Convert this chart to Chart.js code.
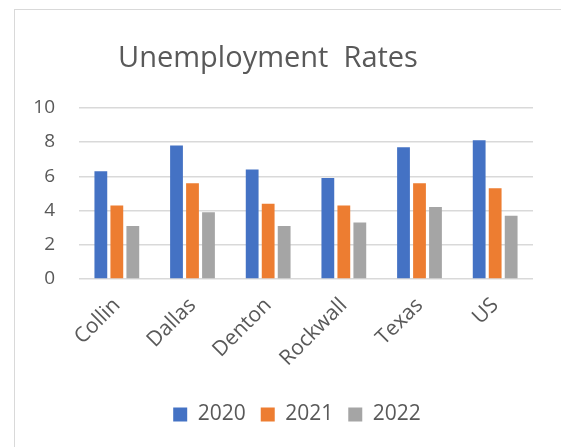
<!DOCTYPE html>
<html>
<head>
<meta charset="utf-8">
<script src="https://cdn.jsdelivr.net/npm/chart.js@4"></script>
<style>
    html, body { margin: 0; padding: 0; background: #fff; overflow: hidden; }
    #frame {
        position: absolute; left: 14px; top: 9px;
        width: 556px; height: 438px;
        border-left: 1px solid #d9d9d9; border-top: 1px solid #d9d9d9;
    }
    #frame canvas { display: block; }
</style>
</head>
<body>
<div id="frame"><canvas id="chart" width="555" height="437"></canvas></div>
<script>
const regions = ['Collin', 'Dallas', 'Denton', 'Rockwall', 'Texas', 'US'];
const rates2020 = [6.3, 7.8, 6.4, 5.9, 7.7, 8.1];
const rates2021 = [4.3, 5.6, 4.4, 4.3, 5.6, 5.3];
const rates2022 = [3.1, 3.9, 3.1, 3.3, 4.2, 3.7];
const yTicks = [0, 2, 4, 6, 8, 10];

const FONT = "'Open Sans', 'Noto Sans', sans-serif";
const TEXT = '#595959';

// title sits a bit left, legend is centred on the full frame
const nudgeBlocks = {
    id: 'nudgeBlocks',
    afterLayout(chart) {
        const t = chart.titleBlock;
        if (t) { t.left -= 6; t.right -= 6; }
        const l = chart.legend;
        if (l) { l.left += 23; l.right += 23; }
    }
};

new Chart(document.getElementById('chart'), {
    type: 'bar',
    data: {
        labels: regions,
        datasets: [
            { label: '2020', data: rates2020, backgroundColor: '#4472C4' },
            { label: '2021', data: rates2021, backgroundColor: '#ED7D31' },
            { label: '2022', data: rates2022, backgroundColor: '#A5A5A5' }
        ]
    },
    options: {
        responsive: false,
        animation: false,
        layout: { padding: { left: 0, right: 37, top: 0, bottom: 12 } },
        datasets: { bar: { categoryPercentage: 0.634, barPercentage: 0.8 } },
        plugins: {
            title: {
                display: true,
                text: 'Unemployment  Rates',
                color: TEXT,
                font: { family: FONT, size: 29, weight: 'normal' },
                padding: { top: 31, bottom: 32 }
            },
            legend: {
                position: 'bottom',
                labels: {
                    color: TEXT,
                    font: { family: FONT, size: 21 },
                    boxWidth: 14,
                    boxHeight: 14,
                    padding: 15
                }
            },
            tooltip: { enabled: false }
        },
        scales: {
            x: {
                grid: { display: false },
                border: { display: false },
                ticks: {
                    color: TEXT,
                    font: { family: FONT, size: 21 },
                    minRotation: 45,
                    maxRotation: 45,
                    padding: 6
                },
                afterFit(s) { s.height = 110; }
            },
            y: {
                min: 0,
                max: 10,
                afterBuildTicks(s) { s.ticks = yTicks.map(v => ({ value: v })); },
                grid: { color: '#d9d9d9', lineWidth: 1.5, drawTicks: false },
                border: { display: false },
                ticks: {
                    color: TEXT,
                    font: { family: FONT, size: 19 },
                    padding: 24
                },
                afterFit(s) { s.width = 64; }
            }
        }
    },
    plugins: [nudgeBlocks]
});
</script>
</body>
</html>
